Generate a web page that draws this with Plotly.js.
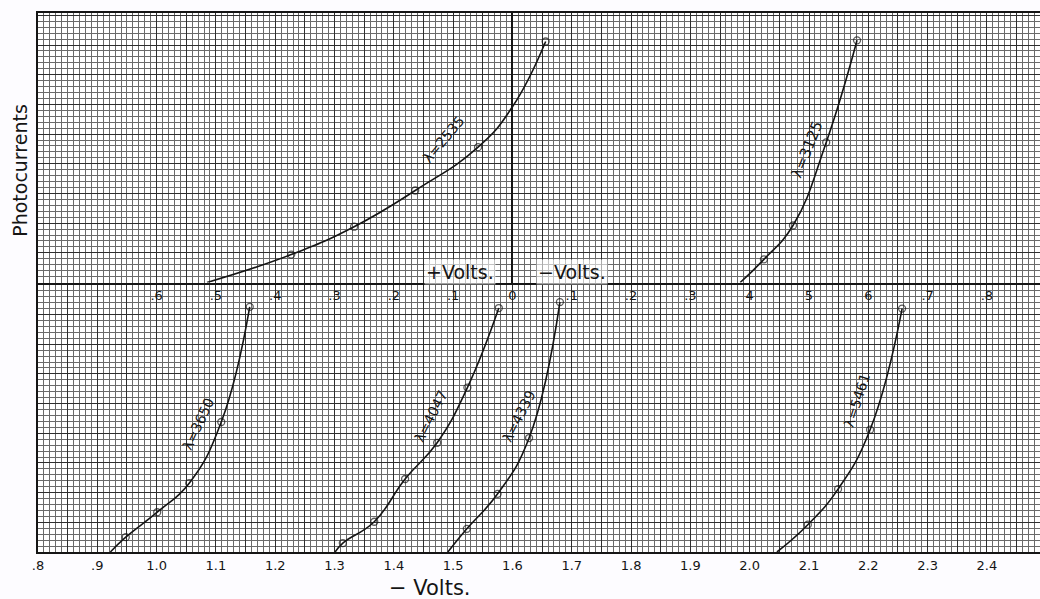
<!DOCTYPE html>
<html>
<head>
<meta charset="utf-8">
<script src="https://cdn.plot.ly/plotly-3.0.1.min.js"></script>
<style>html,body{margin:0;padding:0;background:#fdfcff;}</style>
</head>
<body>
<div id="chart" style="width:1040px;height:599px;"></div>
<script>
// ---- Tick labels ----
const bottomTickVals = [0.8,0.9,1.0,1.1,1.2,1.3,1.4,1.5,1.6,1.7,1.8,1.9,2.0,2.1,2.2,2.3,2.4];
const bottomTickText = ['.8','.9','1.0','1.1','1.2','1.3','1.4','1.5','1.6','1.7','1.8','1.9','2.0','2.1','2.2','2.3','2.4'];
// upper scale: + Volts to the left of 0, - Volts to the right
const topTickVals = [0.6,0.5,0.4,0.3,0.2,0.1,0,-0.1,-0.2,-0.3,-0.4,-0.5,-0.6,-0.7,-0.8];
const topTickText = ['.6','.5','.4','.3','.2','.1','0','.1','.2','.3','4','5','6','.7','.8'];

// ---- Upper group (signed volts, + = "+Volts") ----
const volts2535 = [0.515, 0.373, 0.267, 0.164, 0.058, 0.0, -0.056];
const curr2535  = [0, 4.7, 9.4, 15.5, 22.8, 29.6, 40.6];
const meas2535  = [0, 1, 1, 1, 1, 0, 1];

const volts3125 = [-0.384, -0.424, -0.473, -0.529, -0.581];
const curr3125  = [0, 3.9, 9.6, 23.6, 40.8];
const meas3125  = [0, 1, 1, 1, 1];

// ---- Lower group (-Volts) ----
const volts3650 = [0.922, 0.948, 1.001, 1.055, 1.109, 1.157];
const curr3650  = [0, 2.5, 6.7, 11.6, 21.9, 41.3];
const meas3650  = [0, 1, 1, 1, 1, 1];

const volts4047 = [1.301, 1.314, 1.367, 1.419, 1.473, 1.524, 1.577];
const curr4047  = [0, 1.5, 5.1, 12.3, 18.4, 27.7, 41.1];
const meas4047  = [0, 1, 1, 1, 1, 1, 1];

const volts4339 = [1.491, 1.523, 1.575, 1.628, 1.680];
const curr4339  = [0, 3.9, 9.8, 19.2, 42.1];
const meas4339  = [0, 1, 1, 1, 1];

const volts5461 = [2.046, 2.098, 2.149, 2.203, 2.257];
const curr5461  = [0, 4.6, 10.6, 20.6, 41.0];
const meas5461  = [0, 1, 1, 1, 1];

const labelNames = ['λ=2535','λ=3125','λ=3650','λ=4047','λ=4339','λ=5461'];

// ---- Styles ----
const INK = '#151515';
const MINOR = '#6a6a6a';
const MAJOR = '#2e2e2e';
const YMAX = 45.4;

function curve(x, y, meas, xa, ya) {
  return {
    x: x, y: y, xaxis: xa, yaxis: ya, type: 'scatter', mode: 'lines+markers',
    line: {color: INK, width: 1.6, shape: 'spline', smoothing: 1.3},
    marker: {symbol: 'circle-open', size: meas.map(m => m ? 7 : 0), color: INK, line: {width: 1.3, color: INK}},
    showlegend: false, hoverinfo: 'skip', cliponaxis: false
  };
}

const data = [
  curve(volts2535, curr2535, meas2535, 'x2', 'y2'),
  curve(volts3125, curr3125, meas3125, 'x2', 'y2'),
  curve(volts3650, curr3650, meas3650, 'x', 'y'),
  curve(volts4047, curr4047, meas4047, 'x', 'y'),
  curve(volts4339, curr4339, meas4339, 'x', 'y'),
  curve(volts5461, curr5461, meas5461, 'x', 'y')
];

// half-way grid positions (no labels)
function withHalves(vals, texts, step) {
  const v = [], t = [];
  vals.forEach((val, i) => { v.push(val); t.push(texts[i]); });
  vals.forEach(val => { v.push(+(val + step).toFixed(3)); t.push(''); });
  return {v, t};
}
const bt = withHalves(bottomTickVals, bottomTickText, 0.05);
const tt = withHalves(topTickVals, topTickText, -0.05);

const FONT = 'DejaVu Sans, sans-serif';
const tickFont = {family: FONT, size: 13, color: INK};
const lblFont = {family: FONT, size: 14, color: INK};

const layout = {
  width: 1040, height: 599,
  margin: {l: 38, r: 0, t: 13, b: 47},
  paper_bgcolor: '#fdfcff', plot_bgcolor: '#ffffff',
  showlegend: false,
  xaxis: {
    domain: [0, 1], anchor: 'y', range: [0.8, 2.4895],
    tickmode: 'array', tickvals: bt.v, ticktext: bt.t, ticks: '',
    tickfont: tickFont, showgrid: true, gridcolor: MAJOR, gridwidth: 1,
    minor: {tickmode: 'linear', tick0: 0.8, dtick: 0.01, showgrid: true, gridcolor: MINOR, gridwidth: 1},
    showline: true, linecolor: INK, linewidth: 2, zeroline: false
  },
  yaxis: {
    domain: [0, 0.5], anchor: 'x', range: [0, YMAX],
    tickmode: 'linear', tick0: 0, dtick: 5, showticklabels: false, ticks: '',
    showgrid: true, gridcolor: MAJOR, gridwidth: 1,
    minor: {tickmode: 'linear', tick0: 0, dtick: 1, showgrid: true, gridcolor: MINOR, gridwidth: 1},
    showline: true, linecolor: INK, linewidth: 2, zeroline: false
  },
  xaxis2: {
    domain: [0, 1], anchor: 'y2', range: [0.8, -0.8895],
    tickmode: 'array', tickvals: tt.v, ticktext: tt.t, ticks: '',
    tickfont: tickFont, showgrid: true, gridcolor: MAJOR, gridwidth: 1,
    minor: {tickmode: 'linear', tick0: 0, dtick: 0.01, showgrid: true, gridcolor: MINOR, gridwidth: 1},
    showline: true, mirror: true, linecolor: INK, linewidth: 2,
    zeroline: true, zerolinecolor: INK, zerolinewidth: 2
  },
  yaxis2: {
    domain: [0.5, 1], anchor: 'x2', range: [0, YMAX],
    tickmode: 'linear', tick0: 0, dtick: 5, showticklabels: false, ticks: '',
    showgrid: true, gridcolor: MAJOR, gridwidth: 1,
    minor: {tickmode: 'linear', tick0: 0, dtick: 1, showgrid: true, gridcolor: MINOR, gridwidth: 1},
    showline: true, linecolor: INK, linewidth: 2, zeroline: false
  },
  annotations: [
    {text: labelNames[0], xref: 'x2', yref: 'y2', x: 0.1155, y: 24.1, textangle: -50, showarrow: false, font: lblFont},
    {text: labelNames[1], xref: 'x2', yref: 'y2', x: -0.496, y: 22.4, textangle: -68, showarrow: false,
     font: {family: FONT, size: 15, color: INK}},
    {text: labelNames[2], xref: 'x', yref: 'y', x: 1.0698, y: 21.6, textangle: -65, showarrow: false, font: lblFont},
    {text: labelNames[3], xref: 'x', yref: 'y', x: 1.4626, y: 22.9, textangle: -63, showarrow: false, font: lblFont},
    {text: labelNames[4], xref: 'x', yref: 'y', x: 1.611, y: 22.9, textangle: -63, showarrow: false, font: lblFont},
    {text: labelNames[5], xref: 'x', yref: 'y', x: 2.181, y: 25.6, textangle: -72, showarrow: false, font: lblFont},
    {text: '+Volts.', xref: 'paper', yref: 'paper', x: 0.421, y: 0.519, showarrow: false,
     xanchor: 'center', yanchor: 'middle', bgcolor: 'rgba(255,255,255,0.6)',
     font: {family: FONT, size: 19, color: INK}},
    {text: '−Volts.', xref: 'paper', yref: 'paper', x: 0.533, y: 0.519, showarrow: false,
     xanchor: 'center', yanchor: 'middle', bgcolor: 'rgba(255,255,255,0.6)',
     font: {family: FONT, size: 19, color: INK}},
    {text: '− Volts.', xref: 'paper', yref: 'paper', x: 0.391, y: -0.066, showarrow: false,
     xanchor: 'center', yanchor: 'middle',
     font: {family: FONT, size: 21, color: INK}},
    {text: 'Photocurrents', xref: 'paper', yref: 'paper', x: -0.018, y: 0.709, showarrow: false,
     xanchor: 'center', yanchor: 'middle', textangle: -90,
     font: {family: FONT, size: 19, color: INK}}
  ]
};

Plotly.newPlot('chart', data, layout, {staticPlot: true, displayModeBar: false});
</script>
</body>
</html>
